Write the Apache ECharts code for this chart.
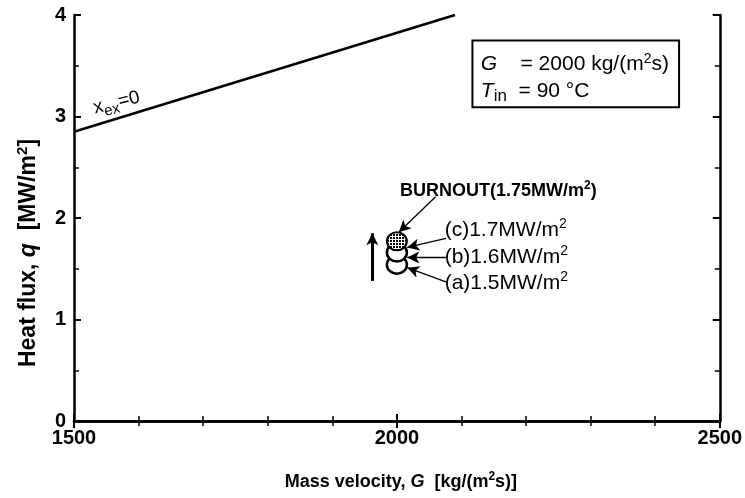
<!DOCTYPE html>
<html><head><meta charset="utf-8">
<script src="https://cdn.jsdelivr.net/npm/echarts@6/dist/echarts.min.js"></script>
<style>html,body{margin:0;padding:0;background:#fff}#c{width:745px;height:498px}</style>
</head><body><div id="c"></div>
<script>
// axis ranges and ticks
const xMin = 1500, xMax = 2500, xInterval = 500;
const yMin = 0, yMax = 4, yInterval = 1;
// x_ex = 0 line
const lineG = [1500, 2090];
const lineQ = [2.85, 4.0];
// measured points (stacked circles) at G = 2000
const pointG = [2000, 2000, 2000];
const pointQ = [1.54, 1.66, 1.77];
const pointNames = ['(a)', '(b)', '(c)'];
// annotation labels [G, q]
const burnoutLabelPos = [2005, 2.27];
const caseLabelPos = [[2074, 1.36], [2074, 1.61], [2074, 1.88]];
const caseLabelText = ['(a)1.5MW/m', '(b)1.6MW/m', '(c)1.7MW/m'];
// annotation arrows [[fromG, fromQ],[toG, toQ]]
const arrows = [
  [[2060, 2.21], [2003, 1.86]],
  [[2076, 1.80], [2016, 1.71]],
  [[2076, 1.61], [2016, 1.61]],
  [[2076, 1.37], [2016, 1.51]]
];
const upArrow = [[1962, 1.38], [1962, 1.85]];
// info box corners
const boxCorner1 = [2117, 3.75];
const boxCorner2 = [2437, 3.09];
const boxTextPos = [2130, 3.38];
const xexLabelPos = [1523, 3.08];

const FONT = 'Liberation Sans';
const sup = {fontSize: 12, padding: [0, 0, 10, 0], fontFamily: FONT};

// dotted fill pattern for burnout circle
const pat = document.createElement('canvas');
pat.width = 3; pat.height = 3;
const pctx = pat.getContext('2d');
pctx.fillStyle = '#fff'; pctx.fillRect(0, 0, 3, 3);
pctx.fillStyle = '#000'; pctx.fillRect(0, 0, 2, 2);

const chart = echarts.init(document.getElementById('c'));
const axisCommon = {
  axisLine: {lineStyle: {color: '#000', width: 2.5}},
  axisTick: {inside: true, length: 7, lineStyle: {color: '#000', width: 2}},
  minorTick: {show: true, length: 5, lineStyle: {color: '#000', width: 1.5}},
  splitLine: {show: false}
};
const nameRich = (fs) => ({
  b: {fontSize: fs, fontWeight: 'bold', fontFamily: FONT, color: '#000'},
  i: {fontSize: fs, fontWeight: 'bold', fontStyle: 'italic', fontFamily: FONT, color: '#000'},
  s: Object.assign({}, sup, {fontSize: Math.round(fs * 0.65), padding: [0, 0, Math.round(fs * 0.55), 0], fontWeight: 'bold', color: '#000'})
});
chart.setOption({
  animation: false,
  grid: {left: 74, right: 24, top: 15, bottom: 77},
  xAxis: [
    Object.assign({}, axisCommon, {
      type: 'value', min: xMin, max: xMax, interval: xInterval,
      minorTick: Object.assign({}, axisCommon.minorTick, {splitNumber: 5}),
      axisLabel: {color: '#000', fontSize: 20, fontWeight: 'bold', fontFamily: FONT, margin: 7,
        formatter: v => String(v)},
      name: '{b|Mass velocity, }{i|G}{b|  [kg/(m}{s|2}{b|s)]}',
      nameLocation: 'middle', nameGap: 50,
      nameTextStyle: {rich: nameRich(18), padding: [0, 0, 0, 8]}
    }),
    Object.assign({}, axisCommon, {
      type: 'value', min: xMin, max: xMax, interval: xInterval, position: 'top',
      minorTick: Object.assign({}, axisCommon.minorTick, {splitNumber: 5}),
      axisLabel: {show: false}
    })
  ],
  yAxis: [
    Object.assign({}, axisCommon, {
      type: 'value', min: yMin, max: yMax, interval: yInterval,
      minorTick: Object.assign({}, axisCommon.minorTick, {splitNumber: 2}),
      axisLabel: {color: '#000', fontSize: 20, fontWeight: 'bold', fontFamily: FONT, margin: 8},
      name: '{b|Heat flux, }{i|q}{b|  [MW/m}{s|2}{b|]}',
      nameLocation: 'middle', nameGap: 31, nameRotate: 90,
      nameTextStyle: {rich: nameRich(23), padding: [0, 70, 0, 0]}
    }),
    Object.assign({}, axisCommon, {
      type: 'value', min: yMin, max: yMax, interval: yInterval, position: 'right',
      minorTick: Object.assign({}, axisCommon.minorTick, {splitNumber: 2}),
      axisLabel: {show: false}
    })
  ],
  series: [
    {
      type: 'line', data: lineG.map((g, i) => [g, lineQ[i]]),
      showSymbol: false, lineStyle: {color: '#000', width: 2.5}, z: 2,
      markPoint: {
        symbol: 'circle', symbolSize: 0,
        data: [{coord: xexLabelPos, label: {
          show: true, position: 'right', rotate: 14,
          formatter: '{a|x}{b|ex}{a|=0}',
          rich: {a: {fontSize: 19, fontFamily: FONT, color: '#000'},
                 b: {fontSize: 15, fontFamily: FONT, color: '#000', padding: [12, 0, 0, 0]}}
        }}]
      },
      markArea: {
        silent: true,
        itemStyle: {color: '#fff', borderColor: '#000', borderWidth: 2},
        data: [[{coord: boxCorner1}, {coord: boxCorner2}]]
      }
    },
    ...pointG.map((g, i) => ({
      type: 'custom', name: pointNames[i], data: [[g, pointQ[i]]], z: 3 + i,
      renderItem: (params, api) => {
        const p = api.coord([api.value(0), api.value(1)]);
        return {
          type: 'ellipse',
          shape: {cx: p[0], cy: p[1], rx: 10, ry: 9},
          style: {
            fill: i === 2 ? {image: pat, repeat: 'repeat'} : '#fff',
            stroke: '#000', lineWidth: i === 2 ? 2 : 2.5
          }
        };
      }
    })),
    {
      type: 'scatter', data: [], z: 10,
      markLine: {
        silent: true, symbol: ['none', 'arrow'], symbolSize: [9, 12],
        lineStyle: {color: '#000', width: 1.3, type: 'solid'},
        label: {show: false},
        data: arrows.map(a => [{coord: a[0]}, {coord: a[1]}]).concat([
          [{coord: upArrow[0], lineStyle: {width: 3}, symbolSize: [12, 14]}, {coord: upArrow[1]}]
        ])
      },
      markPoint: {
        symbol: 'circle', symbolSize: 0,
        data: [
          {coord: burnoutLabelPos, label: {show: true, position: 'right', distance: 0,
            formatter: '{a|BURNOUT(1.75MW/m}{s|2}{a|)}',
            rich: {a: {fontSize: 18, fontWeight: 'bold', fontFamily: FONT, color: '#000'},
                   s: Object.assign({}, sup, {fontWeight: 'bold', color: '#000'})}}}
        ].concat(caseLabelPos.map((p, i) => ({coord: p, label: {show: true, position: 'right', distance: 0,
            formatter: '{a|' + caseLabelText[i] + '}{s|2}',
            rich: {a: {fontSize: 21, fontFamily: FONT, color: '#000'},
                   s: Object.assign({}, sup, {fontSize: 14, padding: [0, 0, 12, 0], color: '#000'})}}}))).concat([
          {coord: boxTextPos, label: {show: true, position: 'right', distance: 0,
            formatter: '{i|G}{a|    = 2000 kg/(m}{s|2}{a|s)}\n{i|T}{b|in}{a|  = 90 °C}',
            rich: {a: {fontSize: 21, fontFamily: FONT, color: '#000', lineHeight: 27},
                   i: {fontSize: 21, fontStyle: 'italic', fontFamily: FONT, color: '#000', lineHeight: 27},
                   b: {fontSize: 17, fontFamily: FONT, color: '#000', padding: [10, 0, 0, 0]},
                   s: Object.assign({}, sup, {fontSize: 14, padding: [0, 0, 11, 0], color: '#000'})}}}
        ])
      }
    }
  ]
});
</script></body></html>
